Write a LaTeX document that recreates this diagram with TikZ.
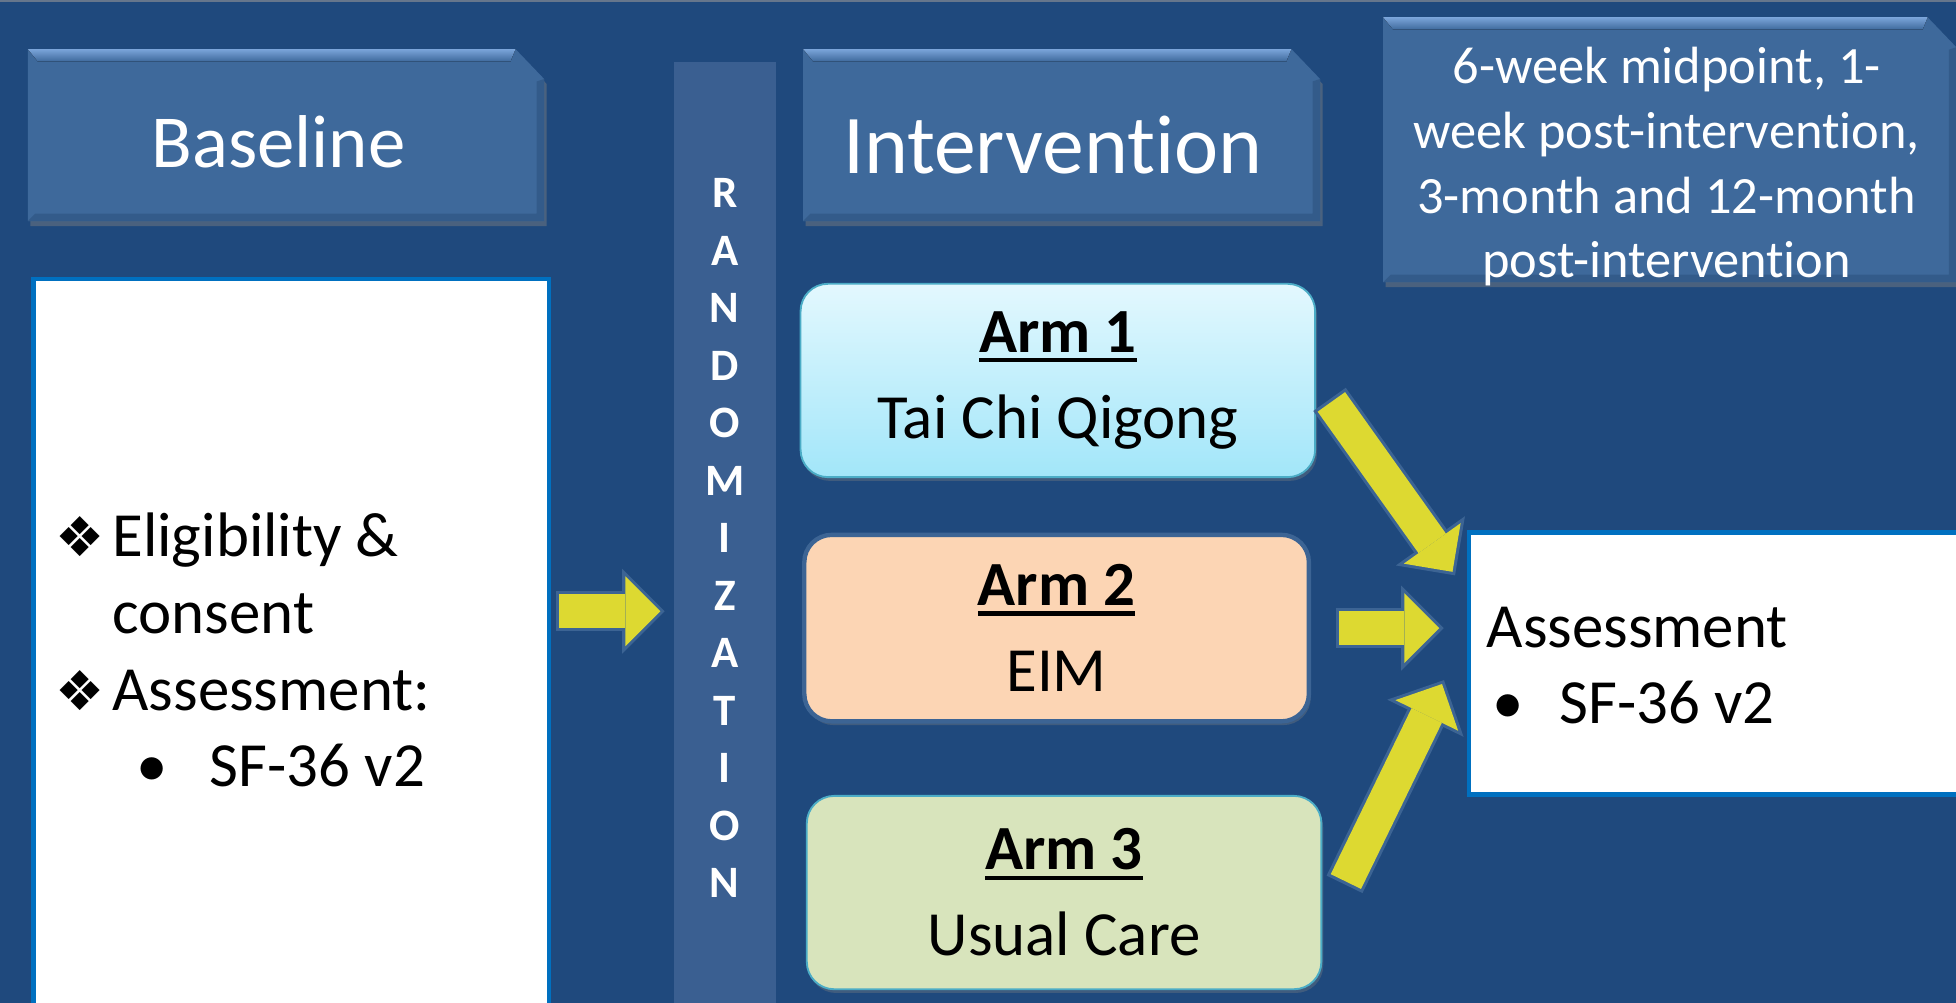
\documentclass[tikz,border=0pt]{standalone}
\usepackage{fontspec}
\setmainfont{Carlito}[Ligatures = NoCommon]
\newfontfamily\dingfont{DejaVu Sans}
\usetikzlibrary{backgrounds}
\usetikzlibrary{positioning}
\usetikzlibrary{arrows.meta}
\usetikzlibrary{shadows}
\definecolor{slide}{HTML}{1F497D}
\definecolor{rim}{HTML}{66768C}
\definecolor{headblue}{HTML}{3E699B}
\definecolor{headlight}{HTML}{7BA5DA}
\definecolor{headdark}{HTML}{335B8A}
\definecolor{barblue}{HTML}{3A5F91}
\definecolor{boxline}{HTML}{0070C0}
\definecolor{arrowfill}{HTML}{DDD931}
\definecolor{arrowline}{HTML}{3C6494}
\definecolor{armonetop}{HTML}{E3F8FE}
\definecolor{armonebot}{HTML}{A2E6F9}
\definecolor{armline}{HTML}{4BACC6}
\definecolor{armtwo}{HTML}{FCD5B4}
\definecolor{armthree}{HTML}{D8E4BC}

\newsavebox\armbox
\newcommand{\armhead}[1]{\sbox\armbox{\bfseries #1}\rlap{\rule[-8pt]{\wd\armbox}{3.5pt}}\usebox\armbox}
\newcommand{\diam}{\makebox[45.5pt][l]{\dingfont\fontsize{44}{44}\selectfont\char"2756}}

\begin{document}
\begin{tikzpicture}[
            x = 1pt, y = 1pt,
            every node/.style = {inner sep = 0pt},
            headbox/.style = {text = white, minimum height = 137.5pt},
            headshape/.style = {fill = headblue, drop shadow = {shadow xshift = 2pt, shadow yshift = -4pt, opacity = .45}},
            headshine/.style = {top color = headlight, bottom color = headblue},
            listbox/.style = {draw = boxline, line width = 3.5pt, fill = white},
            listtext/.style = {anchor = west, align = left, font = \fontsize{50.4}{61.5}\selectfont},
            arm/.style = {rounded corners = 22pt, minimum width = 412.5pt, minimum height = 155pt, align = center,
                          font = \fontsize{50.4}{69}\selectfont,
                          drop shadow = {shadow xshift = 1.5pt, shadow yshift = -3pt, opacity = .35}},
            blockarrow/.style 2 args = {
                draw = arrowfill, line width = 27pt,
                -{Triangle[length = 28pt, width = 56pt, line width = 0pt]},
                shorten < = #1 + 2.5pt, shorten > = #2 + 3.5pt,
                preaction = {draw = arrowline, line width = 32pt,
                             -{Triangle[length = 34pt, width = 68pt, line width = 0pt]},
                             shorten < = #1, shorten > = #2}}
        ]

        \useasboundingbox (0,0) rectangle (1568,-804);

        % column heads
        \node[headbox, minimum width = 413.5pt, font = \fontsize{60}{72}\selectfont,
              text height = 51.5pt, text depth = 0pt] (base) at (229.25,-108.25) {\kern-12pt Baseline};
        \node[headbox, minimum width = 414pt, font = \fontsize{67}{80}\selectfont,
              text height = 61.5pt, text depth = 0pt] (interv) at (851,-108.25) {\kern-14pt Intervention};
        \node[minimum width = 459pt, minimum height = 212pt] (follow) at (1338.5,-120) {};
        \node[text = white, align = center, font = \fontsize{42}{52}\selectfont] (followtext) at (1336,-133.6)
            {6-week midpoint, 1-\\week post-intervention,\\3-month and 12-month\\post-intervention};

        % randomization bar
        \node[fill = barblue, minimum width = 82pt, minimum height = 763pt, text = white, align = center,
              font = \bfseries\fontsize{36}{46.08}\selectfont] (rand) at (581,-431.5)
            {R\\A\\N\\D\\O\\M\\I\\Z\\A\\T\\I\\O\\N};

        % baseline
        \node[listbox, minimum width = 413.5pt, minimum height = 595.1pt] (elig) at (233.5,-521.3) {};
        \node[listtext] (eligtext) at (44.5,-521.3)
            {\diam Eligibility \&\\\hspace*{45.5pt}consent\\\diam Assessment:\\\hspace*{77.5pt}\makebox[0pt]{•}\hspace*{46pt}SF-36 v2};

        % arms
        \node[arm, top color = armonetop, bottom color = armonebot, draw = armline, line width = 1.5pt] (arm1) at (848,-305)
            {\armhead{Arm 1}\\Tai Chi Qigong};
        \node[arm, node distance = 198.5pt, below of = arm1, xshift = -1pt, fill = armtwo, draw = arrowline,
              line width = 3.5pt, minimum width = 404.5pt, minimum height = 149.5pt] (arm2)
            {\armhead{Arm 2}\\EIM};
        \node[arm, node distance = 212pt, below of = arm2, xshift = 6pt, fill = armthree, draw = armline,
              line width = 1.5pt] (arm3)
            {\armhead{Arm 3}\\Usual Care};

        % follow-up assessment
        \node[listbox, minimum width = 422.25pt, minimum height = 210pt] (assess) at (1388.9,-531.75) {};
        \node[listtext] (assesstext) at (1191.5,-533.6)
            {Assessment\\\hspace*{17.5pt}\makebox[0pt]{•}\hspace*{41pt}SF-36 v2};

        % arrows
        \draw[blockarrow = {3.75pt}{7pt}] ([yshift = 31.3pt]elig.east) -- ([yshift = 31.3pt]elig.east -| rand.west);
        \draw[blockarrow = {18.6pt}{16.6pt}] (arm1.east) -- ([yshift = 57pt]assess.west);
        \draw[blockarrow = {19.75pt}{18.75pt}] (arm2.east) -- (arm2.east -| assess.west);
        \draw[blockarrow = {40.7pt}{42.3pt}] ([yshift = -30pt]arm3.east) -- ([yshift = 24.6pt]assess.west);

        % BACKGROUND
        \begin{scope}[on background layer]
            \fill[slide] (0,0) rectangle (1568,-804);
            \draw[rim, line width = 1.5pt] (0,-0.75) -- (1568,-0.75);

            \path[headshape] (base.south west) -- (base.north west) -- ([xshift = -23pt]base.north east)
                -- ([yshift = -24pt]base.north east) -- (base.south east) -- cycle;
            \fill[headshine] (base.north west) -- ([xshift = -23pt]base.north east)
                -- ([xshift = -27pt, yshift = -10pt]base.north east) -- ([xshift = 8pt, yshift = -10pt]base.north west) -- cycle;
            \fill[headdark] (base.south west) -- (base.south east) -- ([yshift = -24pt]base.north east)
                -- ([xshift = -6pt, yshift = -26pt]base.north east) -- ([xshift = -6pt, yshift = 6pt]base.south east)
                -- ([xshift = 6pt, yshift = 6pt]base.south west) -- cycle;

            \path[headshape] (interv.south west) -- (interv.north west) -- ([xshift = -23pt]interv.north east)
                -- ([yshift = -24pt]interv.north east) -- (interv.south east) -- cycle;
            \fill[headshine] (interv.north west) -- ([xshift = -23pt]interv.north east)
                -- ([xshift = -27pt, yshift = -10pt]interv.north east) -- ([xshift = 8pt, yshift = -10pt]interv.north west) -- cycle;
            \fill[headdark] (interv.south west) -- (interv.south east) -- ([yshift = -24pt]interv.north east)
                -- ([xshift = -6pt, yshift = -26pt]interv.north east) -- ([xshift = -6pt, yshift = 6pt]interv.south east)
                -- ([xshift = 6pt, yshift = 6pt]interv.south west) -- cycle;

            \path[headshape] (follow.south west) -- (follow.north west) -- ([xshift = -23pt]follow.north east)
                -- ([yshift = -24pt]follow.north east) -- (follow.south east) -- cycle;
            \fill[headshine] (follow.north west) -- ([xshift = -23pt]follow.north east)
                -- ([xshift = -27pt, yshift = -10pt]follow.north east) -- ([xshift = 8pt, yshift = -10pt]follow.north west) -- cycle;
            \fill[headdark] (follow.south west) -- (follow.south east) -- ([yshift = -24pt]follow.north east)
                -- ([xshift = -6pt, yshift = -26pt]follow.north east) -- ([xshift = -6pt, yshift = 6pt]follow.south east)
                -- ([xshift = 6pt, yshift = 6pt]follow.south west) -- cycle;
        \end{scope}

\end{tikzpicture}
\end{document}
